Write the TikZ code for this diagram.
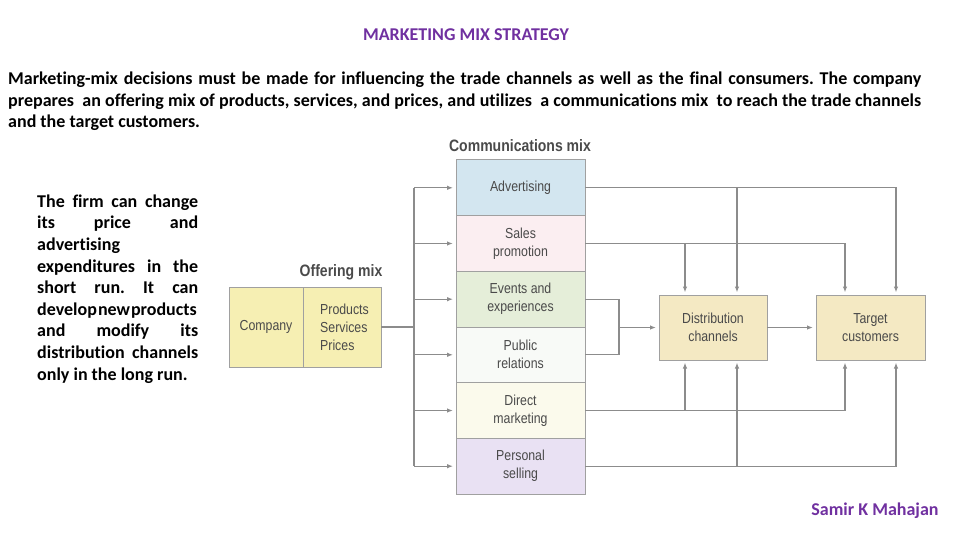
\documentclass[tikz,border=0pt]{standalone}
\usepackage{fontspec}
\setmainfont{Carlito}[Ligatures={NoCommon}]
\newfontfamily\cond[FakeStretch=0.85]{Liberation Sans}
\usetikzlibrary{arrows.meta,calc}
\frenchspacing
\definecolor{ttl}{HTML}{7030A0}
\definecolor{lnc}{HTML}{8C8C8C}
\definecolor{bdc}{HTML}{A0A0A0}
\definecolor{txg}{HTML}{4A4A4A}
\definecolor{cadv}{HTML}{D3E6F0}
\definecolor{csp}{HTML}{FBEEF1}
\definecolor{cev}{HTML}{E5EED9}
\definecolor{cpr}{HTML}{F8FAF7}
\definecolor{cdm}{HTML}{FBFAEC}
\definecolor{cps}{HTML}{E9E1F3}
\definecolor{coff}{HTML}{F6EFB3}
\definecolor{cdst}{HTML}{F4E9C3}
\tikzset{
  boxfont/.style={font=\cond\fontsize{14.5}{18}\selectfont},
  commbox/.style={draw=bdc, line width=0.9pt, minimum width=129pt, minimum height=55.7pt, align=center, inner sep=0pt, text=txg, boxfont},
  offbox/.style={draw=bdc, line width=0.9pt, fill=coff, minimum height=80pt, align=left, inner sep=0pt, text=txg, boxfont},
  dstbox/.style={draw=bdc, line width=0.9pt, fill=cdst, minimum height=65pt, align=center, inner sep=0pt, text=txg, boxfont},
  grplabel/.style={text=txg, font=\cond\bfseries\fontsize{16.5}{18}\selectfont, inner sep=0pt},
  conn/.style={draw=lnc, line width=1.2pt},
  arr/.style={conn, -{Latex[length=6pt,width=4.5pt]}, shorten >=2.5pt},
}
\begin{document}
\begin{tikzpicture}[x=1pt,y=-1pt]
\useasboundingbox (0,0) rectangle (960,540);
% title and texts
\node[text=ttl, font=\bfseries\fontsize{18}{20}\selectfont, inner sep=0pt] (title) at (466,35) {MARKETING MIX STRATEGY};
\node[anchor=north west, inner sep=0pt, text width=913pt, align=justify, font=\bfseries\fontsize{18}{21.5}\selectfont] (intro) at (8,72)
{Marketing-mix decisions must be made for influencing the trade channels as well as the final consumers. The company\linebreak
prepares~ an offering mix of products, services, and prices, and utilizes~ a communications mix~ to reach the trade channels\linebreak
and the target customers.};
\node[anchor=north west, inner sep=0pt, align=left, font=\bfseries\fontsize{18}{21.6}\selectfont] (side) at (37,194.5)
{\makebox[161pt][s]{The firm can change}\\
\makebox[161pt][s]{its \hfill price \hfill and}\\
advertising\\
\makebox[161pt][s]{expenditures in the}\\
\makebox[161pt][s]{short run. It can}\\
\makebox[161pt][s]{{\spaceskip=1pt minus 1pt develop new products}}\\
\makebox[161pt][s]{and \hfill modify \hfill its}\\
\makebox[161pt][s]{distribution channels}\\
only in the long run.};
\node[text=ttl, font=\bfseries\fontsize{18}{20}\selectfont, inner sep=0pt] (author) at (875,511) {Samir K Mahajan};
% group labels
\node[grplabel] (commlbl) at (520,146) {Communications mix};
\node[grplabel] (offlbl) at (341,272) {Offering mix};
% communications boxes
\node[commbox, fill=cadv] (adv) at (520.5,187.8) {Advertising};
\node[commbox, fill=csp] (sp) at (520.5,243.5) {Sales\\promotion};
\node[commbox, fill=cev] (ev) at (520.5,299.2) {Events and\\experiences};
\node[commbox, fill=cpr] (pr) at (520.5,354.8) {Public\\relations};
\node[commbox, fill=cdm] (dm) at (520.5,410.5) {Direct\\marketing};
\node[commbox, fill=cps] (ps) at (520.5,466.2) {Personal\\selling};
% offering mix
\node[offbox, minimum width=74pt, align=center] (comp) at (266,327) {Company};
\node[offbox, minimum width=78pt] (prod) at (342,327) {\hspace*{5pt}Products\\\hspace*{5pt}Services\\\hspace*{5pt}Prices};
% distribution / target
\node[dstbox, minimum width=108pt] (dc) at (713,327.5) {Distribution\\channels};
\node[dstbox, minimum width=109pt] (tc) at (870.5,327.5) {Target\\customers};
% coordinates
\coordinate (bus) at (414,327);
\coordinate (brk) at (619,327.5);
\coordinate (dTa) at (685,295); \coordinate (dTb) at (737,295);
\coordinate (tTa) at (845,295); \coordinate (tTb) at (896,295);
\coordinate (dBa) at (685,360); \coordinate (dBb) at (737,360);
\coordinate (tBa) at (845,360); \coordinate (tBb) at (896,360);
% left connectors
\draw[conn] (prod.east) -- (bus);
\draw[conn] (bus |- adv.west) -- (bus |- ps.west);
\foreach \n in {adv,sp,ev,pr,dm,ps} {\draw[arr] (bus |- \n.west) -- (\n.west);}
% right connectors
\draw[arr] (adv.east) -| (tTb);
\draw[arr] (adv.east -| dTb) -- (dTb);
\draw[arr] (sp.east) -| (tTa);
\draw[arr] (sp.east -| dTa) -- (dTa);
\draw[conn] (ev.east) -| (brk |- ev.east) -- (brk |- pr.east) -- (pr.east);
\draw[arr] (brk) -- (dc.west);
\draw[arr] (dc.east) -- (tc.west);
\draw[arr] (dm.east) -| (tBa);
\draw[arr] (dm.east -| dBa) -- (dBa);
\draw[arr] (ps.east) -| (tBb);
\draw[arr] (ps.east -| dBb) -- (dBb);
\end{tikzpicture}
\end{document}
